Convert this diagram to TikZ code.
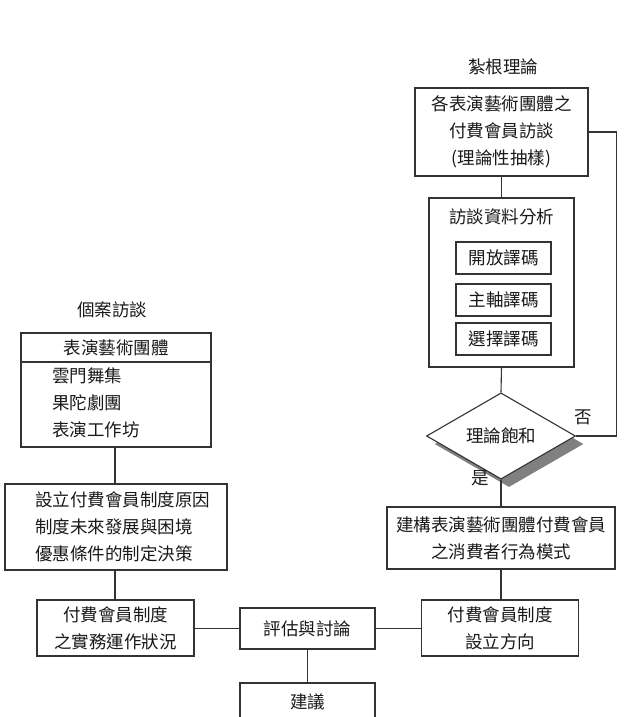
\documentclass[tikz,border=0pt]{standalone}
\usepackage{fontspec}
\setmainfont{Noto Sans CJK TC}
\usetikzlibrary{shapes.geometric,shadows}
\begin{document}
\begin{tikzpicture}[x=1pt,y=-1pt,
  every node/.style={font=\fontsize{17.5}{27}\selectfont, text=black!90},
  line/.style={draw=black!80, line width=1.1pt},
  box/.style={line, rectangle, inner sep=0pt, align=center},
  lbl/.style={inner sep=0pt, align=center},
  list/.style={inner sep=0pt, align=left, anchor=west}]
\useasboundingbox (0,0) rectangle (624,717);

% --- grounded theory column ---
\node[lbl] (gtitle) at (503,67) {紮根理論};
\node[box, minimum width=173, minimum height=88] (interview) at (501.5,132)
  {各表演藝術團體之\\付費會員訪談\\(理論性抽樣)};
\node[box, minimum width=145, minimum height=169] (analysis) at (501.5,282.5) {};
\node[lbl] (atitle) at (501.5,217) {訪談資料分析};
\node[box, minimum width=95, minimum height=32] (open) at (503.5,258) {開放譯碼};
\node[box, minimum width=95, minimum height=32] (axial) at (503.5,300) {主軸譯碼};
\node[box, minimum width=95, minimum height=32] (select) at (503.5,339) {選擇譯碼};
\node[line, diamond, minimum width=149, minimum height=81, inner sep=0pt,
  fill=white, general shadow={fill=black!50, shadow xshift=8pt, shadow yshift=-8pt}]
  (sat) at (501,436) {理論飽和};
\node[lbl] (no) at (583,417) {否};
\node[lbl] (yes) at (480,478) {是};
\node[box, minimum width=228, minimum height=62] (model) at (501,538)
  {建構表演藝術團體付費會員\\之消費者行為模式};
\node[box, minimum width=157, minimum height=56] (direction) at (500,628)
  {付費會員制度\\設立方向};

% --- case interview column ---
\node[lbl] (ctitle) at (112,310) {個案訪談};
\node[box, minimum width=190, minimum height=114] (troupe) at (116,390) {};
\draw[line] (troupe.west |- 0,362) coordinate (divl) -- (troupe.east |- 0,362) coordinate (divr);
\node[lbl] (thead) at (116,348) {表演藝術團體};
\node[list] (titems) at (52,402.5) {雲門舞集\\果陀劇團\\表演工作坊};
\node[box, minimum width=222, minimum height=86] (reason) at (116,527) {};
\node[list] (ritems) at (35,527) {設立付費會員制度原因\\制度未來發展與困境\\優惠條件的制定決策};
\node[box, minimum width=157, minimum height=56] (practice) at (115.5,628)
  {付費會員制度\\之實務運作狀況};

% --- synthesis ---
\node[box, minimum width=135, minimum height=41] (eval) at (307.5,628.5) {評估與討論};
\node[box, minimum width=135, minimum height=38] (suggest) at (307.5,702) {建議};

% --- connectors ---
\draw[line] (interview.south) -- (analysis.north);
\draw[line] (analysis.south) -- (sat.north);
\draw[line] (interview.east) -- ++(28,0) |- (sat.east);
\draw[line] (sat.south) -- (model.north);
\draw[line] (model.south) -- (model.south |- direction.north);
\draw[line] (troupe.south -| 115,0) -- (reason.north -| 115,0);
\draw[line] (reason.south -| 115,0) -- (practice.north -| 115,0);
\draw[line] (practice.east |- eval.west) -- (eval.west);
\draw[line] (eval.east) -- (direction.west |- eval.east);
\draw[line] (eval.south) -- (suggest.north);
\end{tikzpicture}
\end{document}
